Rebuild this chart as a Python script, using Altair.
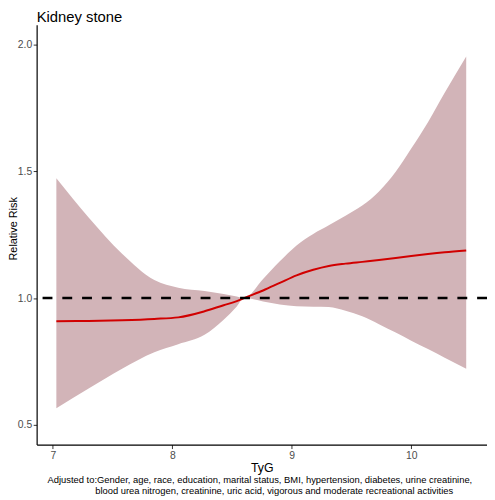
import altair as alt
import pandas as pd

# TyG grid and spline estimates
tyg = [7.03, 7.30, 7.58, 7.85, 8.05, 8.27, 8.43, 8.54, 8.60, 8.76, 8.90, 9.04,
       9.18, 9.31, 9.45, 9.59, 9.73, 9.87, 10.00, 10.14, 10.28, 10.46]
rr = [0.909, 0.910, 0.913, 0.918, 0.924, 0.948, 0.972, 0.988, 1.000, 1.030, 1.060, 1.090,
      1.112, 1.127, 1.136, 1.143, 1.150, 1.158, 1.166, 1.174, 1.181, 1.188]
upper = [1.473, 1.318, 1.175, 1.071, 1.041, 1.028, 1.016, 1.006, 1.000, 1.075, 1.145, 1.208,
         1.253, 1.287, 1.325, 1.365, 1.421, 1.499, 1.590, 1.694, 1.810, 1.953]
lower = [0.565, 0.643, 0.721, 0.786, 0.818, 0.855, 0.915, 0.967, 1.000, 0.987, 0.975, 0.968,
         0.966, 0.965, 0.950, 0.928, 0.897, 0.864, 0.832, 0.799, 0.765, 0.721]

y_ticks = [0.5, 1.0, 1.5, 2.0]
x_ticks = [7, 8, 9, 10]
ref_value = [1.0]

title_text = "Kidney stone"
caption_1 = "Adjusted to:Gender, age, race, education, marital status, BMI, hypertension, diabetes, urine creatinine,"
caption_2 = "blood urea nitrogen, creatinine, uric acid, vigorous and moderate recreational activities"

df = pd.DataFrame({"TyG": tyg, "RR": rr, "upper": upper, "lower": lower})
ref = pd.DataFrame({"y": ref_value})

FONT = "Liberation Sans"

xs = alt.Scale(domain=[6.865, 10.634], nice=False, zero=False)
ys = alt.Scale(domain=[0.422, 2.078], nice=False, zero=False)

x_axis = alt.Axis(values=x_ticks, title="TyG", grid=False, format="d",
                  labelFont=FONT, labelFontSize=10.5, labelColor="#4d4d4d",
                  tickColor="#333333", tickSize=4, labelPadding=2,
                  domainColor="black", domainWidth=1.2,
                  titleFont=FONT, titleFontSize=12.5, titleFontWeight="normal",
                  titleColor="black", titlePadding=1)
y_axis = alt.Axis(values=y_ticks, title="Relative Risk", grid=False, format=".1f",
                  labelFont=FONT, labelFontSize=10.5, labelColor="#4d4d4d",
                  tickColor="#333333", tickSize=3.5, labelPadding=1.5,
                  domainColor="black", domainWidth=1.2,
                  titleFont=FONT, titleFontSize=11, titleFontWeight="normal",
                  titleColor="black", titleX=-20, titleY=206, titleAngle=-90,
                  titleAlign="center", titleBaseline="alphabetic")

band = alt.Chart(df).mark_area(color="#D2B4B8", opacity=1, interpolate="monotone").encode(
    x=alt.X("TyG:Q", scale=xs, axis=x_axis),
    y=alt.Y("upper:Q", scale=ys, axis=y_axis),
    y2="lower:Q",
)

line = alt.Chart(df).mark_line(color="#D10000", strokeWidth=2, interpolate="monotone").encode(
    x=alt.X("TyG:Q", scale=xs),
    y=alt.Y("RR:Q", scale=ys),
)

rule = alt.Chart(ref).mark_rule(color="black", strokeWidth=2.5, strokeDash=[10, 10]).encode(
    y=alt.Y("y:Q", scale=ys),
)

title = alt.Chart(pd.DataFrame({"t": [title_text]})).mark_text(
    font=FONT, fontSize=15, color="black", align="left", baseline="alphabetic"
).encode(text="t:N", x=alt.value(0), y=alt.value(-3))

cap1 = alt.Chart(pd.DataFrame({"t": [caption_1]})).mark_text(
    font=FONT, fontSize=9.5, color="black", align="center", baseline="alphabetic"
).encode(text="t:N", x=alt.value(226), y=alt.value(463.5))

cap2 = alt.Chart(pd.DataFrame({"t": [caption_2]})).mark_text(
    font=FONT, fontSize=9.5, color="black", align="center", baseline="alphabetic"
).encode(text="t:N", x=alt.value(240.5), y=alt.value(475))

chart = alt.layer(band, line, rule, title, cap1, cap2).properties(
    width=456, height=425,
    padding={"left": 29, "top": 14, "right": 0, "bottom": 53},
    autosize=alt.AutoSizeParams(type="none"),
).configure_view(stroke=None)

chart.save("out.html", embed_options={"renderer": "svg", "actions": False})
